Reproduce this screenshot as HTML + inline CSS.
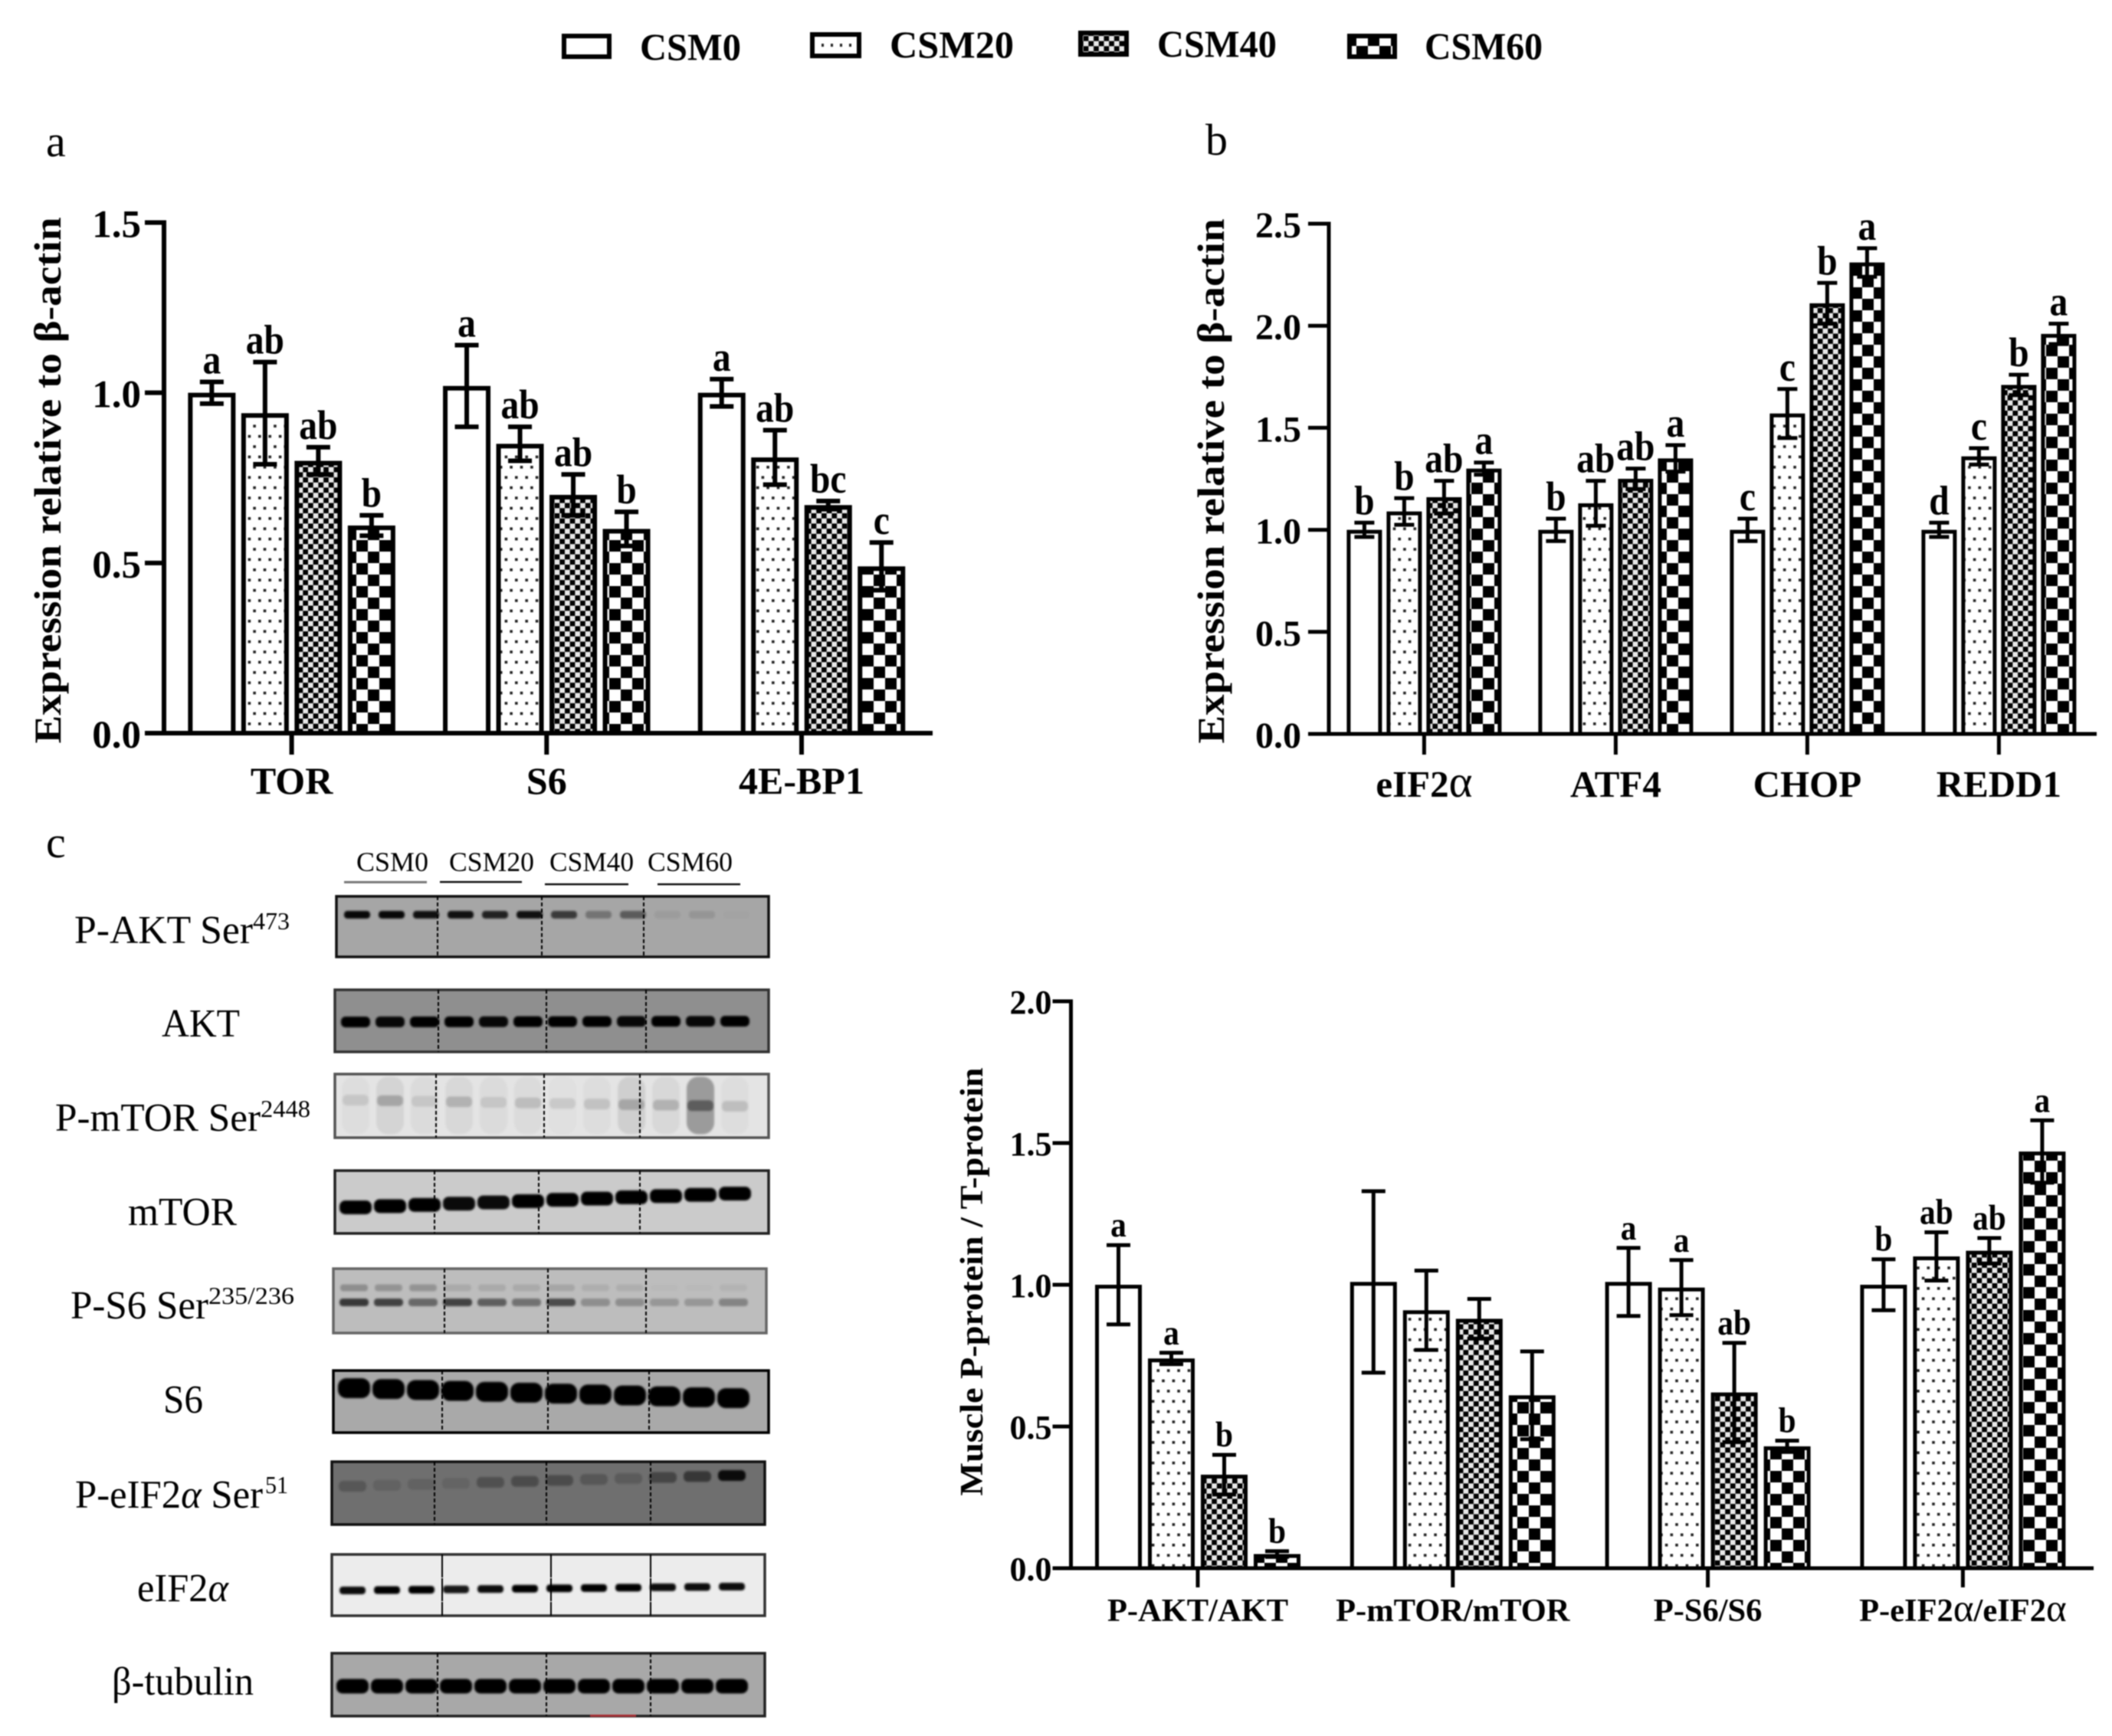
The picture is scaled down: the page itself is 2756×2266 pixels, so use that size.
<!DOCTYPE html>
<html lang="en">
<head>
<meta charset="utf-8">
<title>Expression and phosphorylation by CSM level</title>
<style>
html,body{margin:0;padding:0;background:#fff;}
svg{display:block;filter:blur(0.7px);}
text{font-family:"Liberation Serif","DejaVu Serif",serif;fill:#000;}
.b{font-weight:bold;}
</style>
</head>
<body>
<svg id="figure" xmlns="http://www.w3.org/2000/svg" width="2756" height="2266" viewBox="0 0 2756 2266">
<defs>
<pattern id="pat-dots" patternUnits="userSpaceOnUse" width="13.4" height="26.8">
<rect width="13.4" height="26.8" fill="#fff"/>
<rect x="2" y="5" width="3.6" height="3.6" fill="#222"/>
<rect x="8.7" y="18.4" width="3.6" height="3.6" fill="#222"/>
</pattern>
<pattern id="pat-small" patternUnits="userSpaceOnUse" width="13.4" height="13.4">
<rect width="13.4" height="13.4" fill="#e8e8e8"/>
<rect width="6.7" height="6.7" fill="#000"/>
<rect x="6.7" y="6.7" width="6.7" height="6.7" fill="#000"/>
</pattern>
<pattern id="pat-large" patternUnits="userSpaceOnUse" width="30" height="30">
<rect width="30" height="30" fill="#fff"/>
<rect width="15" height="15" fill="#000"/>
<rect x="15" y="15" width="15" height="15" fill="#000"/>
</pattern>
<pattern id="pat-none" patternUnits="userSpaceOnUse" width="10" height="10">
<rect width="10" height="10" fill="#fff"/>
</pattern>
<filter id="soft" x="-20%" y="-60%" width="140%" height="220%"><feGaussianBlur stdDeviation="1.4"/></filter>
<filter id="smear" x="-40%" y="-10%" width="180%" height="120%"><feGaussianBlur stdDeviation="5"/></filter>
</defs>

<g id="legend">
<g>
<rect x="736" y="47" width="59" height="27" fill="#fff" stroke="#000" stroke-width="6"/>
<text class="b" x="835" y="78" font-size="50" textLength="132" lengthAdjust="spacingAndGlyphs">CSM0</text>
</g>
<g>
<rect x="1060" y="45" width="61" height="28" fill="#fff" stroke="#000" stroke-width="6"/>
<rect x="1072" y="57" width="3" height="4" fill="#222"/>
<rect x="1084" y="57" width="3" height="4" fill="#222"/>
<rect x="1096" y="57" width="3" height="4" fill="#222"/>
<rect x="1108" y="57" width="3" height="4" fill="#222"/>
<text class="b" x="1161" y="75" font-size="50" textLength="162" lengthAdjust="spacingAndGlyphs">CSM20</text>
</g>
<g>
<rect x="1410" y="43" width="60" height="28" fill="url(#pat-small)" stroke="#000" stroke-width="6"/>
<text class="b" x="1510" y="74" font-size="50" textLength="156" lengthAdjust="spacingAndGlyphs">CSM40</text>
</g>
<g>
<rect x="1761" y="47" width="59" height="27" fill="url(#pat-large)" stroke="#000" stroke-width="6"/>
<text class="b" x="1859" y="77" font-size="50" textLength="154" lengthAdjust="spacingAndGlyphs">CSM60</text>
</g>
</g>

<text x="60" y="204" font-size="58">a</text>
<text x="1573" y="202" font-size="58">b</text>
<text x="60" y="1119" font-size="58">c</text>

<g id="panel-a"></g>
<g id="panel-b"></g>
<g id="panel-c"></g>

<g id="blot-header">
<text x="465" y="1137" font-size="36" textLength="94" lengthAdjust="spacingAndGlyphs">CSM0</text>
<text x="586" y="1137" font-size="36" textLength="111" lengthAdjust="spacingAndGlyphs">CSM20</text>
<text x="717" y="1137" font-size="36" textLength="110" lengthAdjust="spacingAndGlyphs">CSM40</text>
<text x="845" y="1137" font-size="36" textLength="111" lengthAdjust="spacingAndGlyphs">CSM60</text>
<rect x="449" y="1150" width="108" height="3" fill="#777"/>
<rect x="574" y="1150" width="107" height="2.5" fill="#111"/>
<rect x="711" y="1153" width="109" height="2.5" fill="#111"/>
<rect x="858" y="1153" width="108" height="2.5" fill="#111"/>
</g>

<g id="blot-labels" font-size="50">
<text x="97" y="1231" font-size="52" textLength="233" lengthAdjust="spacingAndGlyphs">P-AKT Ser</text>
<text x="330" y="1213" font-size="32" textLength="48" lengthAdjust="spacingAndGlyphs">473</text>
<text x="211" y="1353" font-size="52" textLength="102" lengthAdjust="spacingAndGlyphs">AKT</text>
<text x="72" y="1476" font-size="52" textLength="268" lengthAdjust="spacingAndGlyphs">P-mTOR Ser</text>
<text x="340" y="1458" font-size="32" textLength="65" lengthAdjust="spacingAndGlyphs">2448</text>
<text x="167" y="1599" font-size="52" textLength="142" lengthAdjust="spacingAndGlyphs">mTOR</text>
<text x="92" y="1721" font-size="52" textLength="180" lengthAdjust="spacingAndGlyphs">P-S6 Ser</text>
<text x="272" y="1702" font-size="32" textLength="112" lengthAdjust="spacingAndGlyphs">235/236</text>
<text x="213" y="1844" font-size="52" textLength="52" lengthAdjust="spacingAndGlyphs">S6</text>
<text x="98" y="1968" font-size="52" textLength="245" lengthAdjust="spacingAndGlyphs">P-eIF2<tspan font-style="italic">α</tspan> Ser</text>
<text x="346" y="1949" font-size="32" textLength="30" lengthAdjust="spacingAndGlyphs">51</text>
<text x="179" y="2090" font-size="52" textLength="119" lengthAdjust="spacingAndGlyphs">eIF2<tspan font-style="italic">α</tspan></text>
<text x="146" y="2212" font-size="52" textLength="185" lengthAdjust="spacingAndGlyphs">β-tubulin</text>
</g>

<g id="blots"></g>
</svg>

<script>
// ---------- Panel a data ----------
const panelACategories = ['TOR', 'S6', '4E-BP1'];
const panelATicks = ['0.0', '0.5', '1.0', '1.5'];
const panelACsm0 = [1.00, 1.02, 1.00];
const panelACsm20 = [0.94, 0.85, 0.81];
const panelACsm40 = [0.80, 0.70, 0.67];
const panelACsm60 = [0.61, 0.60, 0.49];
const panelACsm0Err = [0.032, 0.12, 0.04];
const panelACsm20Err = [0.15, 0.05, 0.08];
const panelACsm40Err = [0.04, 0.06, 0.012];
const panelACsm60Err = [0.03, 0.05, 0.07];
const panelACsm0Sig = ['a', 'a', 'a'];
const panelACsm20Sig = ['ab', 'ab', 'ab'];
const panelACsm40Sig = ['ab', 'ab', 'bc'];
const panelACsm60Sig = ['b', 'b', 'c'];

// ---------- Panel b data ----------
const panelBCategories = ['eIF2α', 'ATF4', 'CHOP', 'REDD1'];
const panelBTicks = ['0.0', '0.5', '1.0', '1.5', '2.0', '2.5'];
const panelBCsm0 = [1.00, 1.00, 1.00, 1.00];
const panelBCsm20 = [1.09, 1.13, 1.57, 1.36];
const panelBCsm40 = [1.16, 1.25, 2.11, 1.71];
const panelBCsm60 = [1.30, 1.35, 2.31, 1.96];
const panelBCsm0Err = [0.035, 0.055, 0.055, 0.035];
const panelBCsm20Err = [0.065, 0.11, 0.12, 0.04];
const panelBCsm40Err = [0.08, 0.05, 0.10, 0.05];
const panelBCsm60Err = [0.03, 0.065, 0.07, 0.05];
const panelBCsm0Sig = ['b', 'b', 'c', 'd'];
const panelBCsm20Sig = ['b', 'ab', 'c', 'c'];
const panelBCsm40Sig = ['ab', 'ab', 'b', 'b'];
const panelBCsm60Sig = ['a', 'a', 'a', 'a'];

// ---------- Panel c data ----------
const panelCCategories = ['P-AKT/AKT', 'P-mTOR/mTOR', 'P-S6/S6', 'P-eIF2α/eIF2α'];
const panelCTicks = ['0.0', '0.5', '1.0', '1.5', '2.0'];
const panelCCsm0 = [1.00, 1.01, 1.01, 1.00];
const panelCCsm20 = [0.74, 0.91, 0.99, 1.10];
const panelCCsm40 = [0.33, 0.88, 0.62, 1.12];
const panelCCsm60 = [0.05, 0.61, 0.43, 1.47];
const panelCCsm0Err = [0.14, 0.32, 0.12, 0.09];
const panelCCsm20Err = [0.02, 0.14, 0.097, 0.085];
const panelCCsm40Err = [0.07, 0.07, 0.175, 0.045];
const panelCCsm60Err = [0.01, 0.155, 0.02, 0.11];
const panelCCsm0Sig = ['a', '', 'a', 'b'];
const panelCCsm20Sig = ['a', '', 'a', 'ab'];
const panelCCsm40Sig = ['b', '', 'ab', 'ab'];
const panelCCsm60Sig = ['b', '', 'b', 'a'];

// ---------- Blot band strengths (lane opacity, 12 lanes) ----------
const bandsPAkt = [0.95, 0.95, 0.9, 0.9, 0.8, 0.9, 0.65, 0.3, 0.45, 0.06, 0.1, 0.02];
const bandsAkt = [1, 0.95, 1, 1, 0.95, 1, 1, 1, 0.95, 1, 0.95, 1];
const bandsPMtor = [0.1, 0.22, 0.1, 0.18, 0.1, 0.14, 0.1, 0.12, 0.2, 0.18, 0.4, 0.14];
const bandsPMtorSmear = [0.03, 0.07, 0.04, 0.05, 0.04, 0.04, 0.02, 0.03, 0.09, 0.05, 0.32, 0.03];
const bandsMtor = [1, 1, 1, 0.95, 0.95, 1, 1, 1, 1, 1, 1, 1];
const bandsPS6Lower = [0.7, 0.65, 0.45, 0.65, 0.5, 0.4, 0.6, 0.25, 0.25, 0.2, 0.2, 0.3];
const bandsPS6Upper = [0.25, 0.22, 0.22, 0.1, 0.1, 0.1, 0.12, 0.08, 0.08, 0.02, 0.02, 0.05];
const bandsS6 = [1, 1, 1, 1, 1, 1, 1, 1, 1, 1, 1, 1];
const bandsPEif = [0.22, 0.12, 0.12, 0.1, 0.28, 0.32, 0.32, 0.22, 0.18, 0.38, 0.5, 0.9];
const bandsEif = [0.95, 1, 1, 0.9, 0.95, 1, 1, 1, 1, 0.95, 0.95, 0.95];
const bandsTubulin = [1, 1, 1, 1, 1, 1, 1, 1, 1, 1, 1, 1];

const NS = 'http://www.w3.org/2000/svg';
const seriesPatterns = ['url(#pat-none)', 'url(#pat-dots)', 'url(#pat-small)', 'url(#pat-large)'];
const seriesKeys = ['csm0', 'csm20', 'csm40', 'csm60'];

function mk(tag, attrs, parent) {
  const el = document.createElementNS(NS, tag);
  for (const k in attrs) el.setAttribute(k, attrs[k]);
  parent.appendChild(el);
  return el;
}

function linearScale(domainMax, pxZero, pxMax) {
  return function (v) { return pxZero + (pxMax - pxZero) * (v / domainMax); };
}

function setLabelText(el, str) {
  str.split('α').forEach(function (part, i) {
    if (i > 0) {
      const t = document.createElementNS(NS, 'tspan');
      t.setAttribute('font-weight', 'normal');
      t.setAttribute('font-size', '1.2em');
      t.textContent = 'α';
      el.appendChild(t);
    }
    el.appendChild(document.createTextNode(part));
  });
}

function drawPanel(root, cfg) {
  const y = linearScale(cfg.domainMax, cfg.yZero, cfg.yTop);
  const groupX = function (i) { return cfg.x0 + i * cfg.step; };
  const barX = function (i, s) { return groupX(i) + (s - 1.5) * cfg.barStep; };

  // bars and error bars
  cfg.values.forEach(function (series, s) {
    series.forEach(function (v, i) {
      const cx = barX(i, s);
      const half = (cfg.barW - cfg.sw) / 2;
      const bar = mk('rect', {
        x: cx - half, y: y(v) + cfg.sw / 2,
        width: half * 2, height: Math.max(0, cfg.yZero - y(v) - cfg.sw / 2),
        fill: seriesPatterns[s], stroke: '#000', 'stroke-width': cfg.sw
      }, root);
      
      

      const e = cfg.errors[s][i];
      const stem = mk('line', { x1: cx, x2: cx, y1: y(v + e), y2: y(v - e), stroke: '#000', 'stroke-width': cfg.sw }, root);
      
      
      [v + e, v - e].forEach(function (val) {
        const cap = mk('line', { x1: cx - cfg.capW / 2, x2: cx + cfg.capW / 2, y1: y(val), y2: y(val), stroke: '#000', 'stroke-width': cfg.sw }, root);
        
        
      });

      const sig = cfg.letters[s][i];
      if (sig) {
        const t = mk('text', { x: cx, y: y(v + e) - 11, 'text-anchor': 'middle', 'font-size': cfg.sigSize, class: 'b' }, root);
        t.textContent = sig;
        t.setAttribute('textLength', (t.getComputedTextLength() * 0.88).toFixed(1));
        t.setAttribute('lengthAdjust', 'spacingAndGlyphs');
        
        
      }
    });
  });

  // y axis
  const yAxis = mk('line', { x1: cfg.axisX, x2: cfg.axisX, y1: cfg.yTop - cfg.axisW / 2, y2: cfg.yZero + cfg.axisW / 2, stroke: '#000', 'stroke-width': cfg.axisW }, root);
  
  
  cfg.ticks.forEach(function (label) {
    const v = parseFloat(label);
    const tick = mk('line', { x1: cfg.axisX - cfg.yTickLen, x2: cfg.axisX, y1: y(v), y2: y(v), stroke: '#000', 'stroke-width': cfg.axisW }, root);
    
    
    const t = mk('text', { x: cfg.axisX - cfg.yLabelGap, y: y(v) + cfg.yLabelDy, 'text-anchor': 'end', 'font-size': cfg.tickSize, class: 'b' }, root);
    t.textContent = label;
    
    
  });

  // x axis
  const xAxis = mk('line', { x1: cfg.axisX - cfg.yTickLen, x2: cfg.axisRight, y1: cfg.yZero, y2: cfg.yZero, stroke: '#000', 'stroke-width': cfg.axisW }, root);
  
  
  cfg.categories.forEach(function (label, i) {
    const cx = groupX(i);
    const tick = mk('line', { x1: cx, x2: cx, y1: cfg.yZero, y2: cfg.yZero + cfg.xTickLen, stroke: '#000', 'stroke-width': cfg.axisW }, root);
    
    
    const t = mk('text', { x: cx, y: cfg.xLabelY, 'text-anchor': 'middle', 'font-size': cfg.catSize, class: 'b' }, root);
    setLabelText(t, label);
    
    
  });

  // axis title
  const title = mk('text', {
    transform: 'translate(' + cfg.titleX + ',' + cfg.titleY + ') rotate(-90)',
    'text-anchor': 'middle', 'font-size': cfg.titleSize, class: 'b',
    textLength: cfg.titleLen, lengthAdjust: 'spacingAndGlyphs'
  }, root);
  title.textContent = cfg.title;
  
  
}

drawPanel(document.getElementById('panel-a'), {
  categories: panelACategories, ticks: panelATicks,
  values: [panelACsm0, panelACsm20, panelACsm40, panelACsm60],
  errors: [panelACsm0Err, panelACsm20Err, panelACsm40Err, panelACsm60Err],
  letters: [panelACsm0Sig, panelACsm20Sig, panelACsm40Sig, panelACsm60Sig],
  domainMax: 1.5, yZero: 957, yTop: 290.5,
  x0: 380.6, step: 332.7, barStep: 69.5, barW: 62, sw: 6, capW: 31,
  axisX: 214, axisRight: 1217, axisW: 6, yTickLen: 25, xTickLen: 28,
  yLabelGap: 30, yLabelDy: 19, tickSize: 51, catSize: 50, xLabelY: 1036, sigSize: 54,
  title: 'Expression relative to β-actin', titleX: 79, titleY: 627, titleSize: 50, titleLen: 687
});

drawPanel(document.getElementById('panel-b'), {
  categories: panelBCategories, ticks: panelBTicks,
  values: [panelBCsm0, panelBCsm20, panelBCsm40, panelBCsm60],
  errors: [panelBCsm0Err, panelBCsm20Err, panelBCsm40Err, panelBCsm60Err],
  letters: [panelBCsm0Sig, panelBCsm20Sig, panelBCsm40Sig, panelBCsm60Sig],
  domainMax: 2.5, yZero: 958, yTop: 292,
  x0: 1858.4, step: 250, barStep: 52, barW: 46, sw: 5, capW: 26,
  axisX: 1734, axisRight: 2736, axisW: 5, yTickLen: 27, xTickLen: 27,
  yLabelGap: 36, yLabelDy: 18, tickSize: 48, catSize: 49, xLabelY: 1040, sigSize: 54,
  title: 'Expression relative to β-actin', titleX: 1597, titleY: 628, titleSize: 50, titleLen: 685
});

drawPanel(document.getElementById('panel-c'), {
  categories: panelCCategories, ticks: panelCTicks,
  values: [panelCCsm0, panelCCsm20, panelCCsm40, panelCCsm60],
  errors: [panelCCsm0Err, panelCCsm20Err, panelCCsm40Err, panelCCsm60Err],
  letters: [panelCCsm0Sig, panelCCsm20Sig, panelCCsm40Sig, panelCCsm60Sig],
  domainMax: 2.0, yZero: 2047, yTop: 1307,
  x0: 1563, step: 332.8, barStep: 69, barW: 61, sw: 5, capW: 31,
  axisX: 1397.5, axisRight: 2732, axisW: 5, yTickLen: 24, xTickLen: 25,
  yLabelGap: 25, yLabelDy: 16, tickSize: 44, catSize: 42.5, xLabelY: 2116, sigSize: 47,
  title: 'Muscle P-protein / T-protein', titleX: 1282, titleY: 1673, titleSize: 42, titleLen: 559
});

// ---------- Western blot panels (photographic, approximated) ----------
function drawBlot(root, b) {
  const g = mk('g', {}, root);
  
  
  const bg = mk('rect', { x: b.x, y: b.y, width: b.w, height: b.h, fill: b.fill, stroke: b.border, 'stroke-width': 3.5 }, g);
  
  
  const layer = mk('g', { filter: 'url(#soft)' }, g);
  (b.rows || []).forEach(function (r) {
    r.op.forEach(function (o, lane) {
      const cx = b.x + 27 + lane * 45;
      const cy = r.y0 + (r.y1 - r.y0) * (lane / 11);
      const band = mk('rect', { x: cx - r.w / 2, y: cy - r.h / 2, width: r.w, height: r.h, rx: Math.min(r.h, r.w) / 2.4, fill: '#000', opacity: o }, layer);
      
      
    });
  });
  b.dashes.forEach(function (dx) {
    const d = mk('line', { x1: dx, x2: dx, y1: b.y, y2: b.y + b.h, stroke: b.dashColor || '#000', 'stroke-width': 2, 'stroke-dasharray': b.dashPattern || '5 3' }, g);
    
    
  });
}

const blotRoot = document.getElementById('blots');
drawBlot(blotRoot, { key: 'p-akt', x: 439, y: 1170, w: 564, h: 79, fill: '#a6a6a6', border: '#111', dashes: [571, 707, 840],
  rows: [{ y0: 1194, y1: 1194, h: 10, w: 34, op: bandsPAkt }] });
drawBlot(blotRoot, { key: 'akt', x: 437, y: 1292, w: 566, h: 81, fill: '#8f8f8f', border: '#333', dashes: [572, 713, 843],
  rows: [{ y0: 1334, y1: 1333, h: 14, w: 38, op: bandsAkt }] });
drawBlot(blotRoot, { key: 'p-mtor', x: 437, y: 1402, w: 566, h: 83, fill: '#e4e4e4', border: '#555', dashes: [569, 710, 835],
  rows: [{ y0: 1443, y1: 1443, h: 75, w: 36, op: bandsPMtorSmear }, { y0: 1436, y1: 1444, h: 14, w: 34, op: bandsPMtor }] });
drawBlot(blotRoot, { key: 'mtor', x: 437, y: 1528, w: 566, h: 82, fill: '#cbcbcb', border: '#222', dashes: [567, 703, 835],
  rows: [{ y0: 1576, y1: 1558, h: 18, w: 42, op: bandsMtor }] });
drawBlot(blotRoot, { key: 'p-s6', x: 435, y: 1656, w: 565, h: 84, fill: '#bdbdbd', border: '#666', dashes: [580, 715, 843],
  rows: [{ y0: 1700, y1: 1700, h: 10, w: 38, op: bandsPS6Lower }, { y0: 1681, y1: 1681, h: 9, w: 36, op: bandsPS6Upper }] });
drawBlot(blotRoot, { key: 's6', x: 435, y: 1789, w: 568, h: 81, fill: '#a9a9a9', border: '#000', dashes: [577, 715, 847],
  rows: [{ y0: 1812, y1: 1825, h: 26, w: 42, op: bandsS6 }] });
drawBlot(blotRoot, { key: 'p-eif2a', x: 433, y: 1908, w: 565, h: 82, fill: '#6f6f6f', border: '#111', dashes: [567, 713, 849],
  rows: [{ y0: 1940, y1: 1926, h: 14, w: 36, op: bandsPEif }] });
drawBlot(blotRoot, { key: 'eif2a', x: 433, y: 2029, w: 565, h: 80, fill: '#ececec', border: '#333', dashes: [577, 719, 849], dashPattern: '30 1',
  rows: [{ y0: 2076, y1: 2071, h: 10, w: 34, op: bandsEif }] });
drawBlot(blotRoot, { key: 'beta-tubulin', x: 433, y: 2158, w: 565, h: 82, fill: '#a8a8a8', border: '#222', dashes: [571, 713, 849],
  rows: [{ y0: 2201, y1: 2201, h: 19, w: 42, op: bandsTubulin }] });

const speck = mk('rect', { x: 770, y: 2238, width: 60, height: 3, fill: '#d8333a', opacity: 0.7 }, blotRoot);


</script>
</body>
</html>
